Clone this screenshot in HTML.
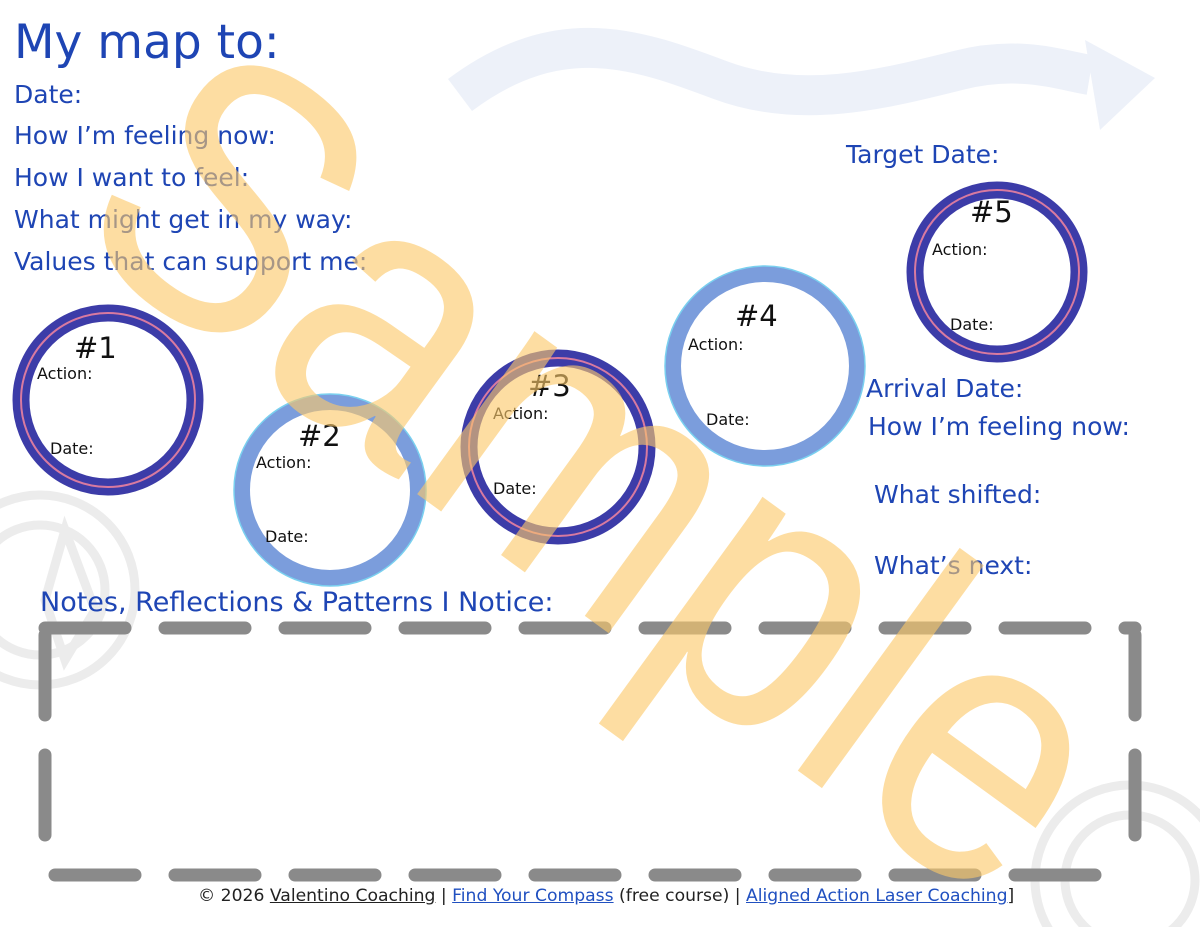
<!DOCTYPE html>
<html><head><meta charset="utf-8"><style>
html,body{margin:0;width:1200px;height:927px;background:#fff;overflow:hidden;position:relative;font-family:"DejaVu Sans",sans-serif}
.t{position:absolute;color:#1e45b4;white-space:nowrap;font-size:25px;line-height:1}
.c{position:absolute;color:#111;font-size:16px;line-height:1}
.n{position:absolute;color:#111;font-size:29px;line-height:1}
</style></head><body>
<svg width="1200" height="927" style="position:absolute;left:0;top:0">
<path d="M460 95 C560 20 640 50 720 80 C800 110 880 90 960 70 C1020 55 1060 70 1090 75" fill="none" stroke="#edf1f9" stroke-width="40"/>
<polygon points="1085,40 1155,78 1100,130" fill="#edf1f9"/>
<g fill="none" stroke="#ececec" stroke-width="9">
<circle cx="40" cy="590" r="95"/><circle cx="40" cy="590" r="65"/>
<path d="M65 530 L95 610 L65 660 L45 600 Z"/>
<circle cx="1130" cy="880" r="95"/><circle cx="1130" cy="880" r="65"/>
</g>
<g fill="none">
<circle cx="108" cy="400" r="87" stroke="#3c3ca8" stroke-width="17"/>
<circle cx="108" cy="400" r="87" stroke="#d87aa0" stroke-width="2"/>
<circle cx="330" cy="490" r="88" stroke="#7b9ddc" stroke-width="16"/>
<circle cx="330" cy="490" r="96" stroke="#7ad0ef" stroke-width="1.5"/>
<circle cx="558" cy="447" r="89" stroke="#3c3ca8" stroke-width="17"/>
<circle cx="558" cy="447" r="89" stroke="#d87aa0" stroke-width="2"/>
<circle cx="765" cy="366" r="92" stroke="#7b9ddc" stroke-width="16"/>
<circle cx="765" cy="366" r="100" stroke="#7ad0ef" stroke-width="1.5"/>
<circle cx="997" cy="272" r="82" stroke="#3c3ca8" stroke-width="17"/>
<circle cx="997" cy="272" r="82" stroke="#d87aa0" stroke-width="2"/>
</g>
<g stroke="#8a8a8a" stroke-width="13" stroke-linecap="round" fill="none" stroke-dasharray="80 40">
<line x1="45" y1="628" x2="1135" y2="628"/>
<line x1="55" y1="875" x2="1135" y2="875"/>
<line x1="45" y1="635" x2="45" y2="865"/>
<line x1="1135" y1="635" x2="1135" y2="875"/>
</g>
</svg>
<div class="t" style="left:14px;top:19px;font-size:47px">My map to:</div>
<div class="t" style="left:14px;top:82px">Date:</div>
<div class="t" style="left:14px;top:123px">How I’m feeling now:</div>
<div class="t" style="left:14px;top:165px">How I want to feel:</div>
<div class="t" style="left:14px;top:207px">What might get in my way:</div>
<div class="t" style="left:14px;top:249px">Values that can support me:</div>
<div class="t" style="left:846px;top:142px">Target Date:</div>
<div class="t" style="left:866px;top:376px">Arrival Date:</div>
<div class="t" style="left:868px;top:414px">How I’m feeling now:</div>
<div class="t" style="left:874px;top:482px">What shifted:</div>
<div class="t" style="left:874px;top:553px">What’s next:</div>
<div class="t" style="left:40px;top:589px;font-size:27px">Notes, Reflections &amp; Patterns I Notice:</div>
<div class="n" style="left:74px;top:334px">#1</div><div class="c" style="left:37px;top:366px">Action:</div><div class="c" style="left:50px;top:441px">Date:</div>
<div class="n" style="left:298px;top:422px">#2</div><div class="c" style="left:256px;top:455px">Action:</div><div class="c" style="left:265px;top:529px">Date:</div>
<div class="n" style="left:528px;top:372px">#3</div><div class="c" style="left:493px;top:406px">Action:</div><div class="c" style="left:493px;top:481px">Date:</div>
<div class="n" style="left:735px;top:302px">#4</div><div class="c" style="left:688px;top:337px">Action:</div><div class="c" style="left:706px;top:412px">Date:</div>
<div class="n" style="left:970px;top:198px">#5</div><div class="c" style="left:932px;top:242px">Action:</div><div class="c" style="left:950px;top:317px">Date:</div>
<div style="position:absolute;left:198px;top:886px;font-size:17.2px;color:#222;white-space:nowrap">© 2026 <u>Valentino Coaching</u> | <u style="color:#2050c0">Find Your Compass</u> (free course) | <u style="color:#2050c0">Aligned Action Laser Coaching</u>]</div>
<svg width="1200" height="927" style="position:absolute;left:0;top:0">
<text x="605" y="468" transform="rotate(36 605 468)" text-anchor="middle" dominant-baseline="central" font-family="Liberation Sans,sans-serif" font-size="380" fill="#fcc96a" opacity="0.62" textLength="1150" lengthAdjust="spacingAndGlyphs">Sample</text>
</svg>
</body></html>
